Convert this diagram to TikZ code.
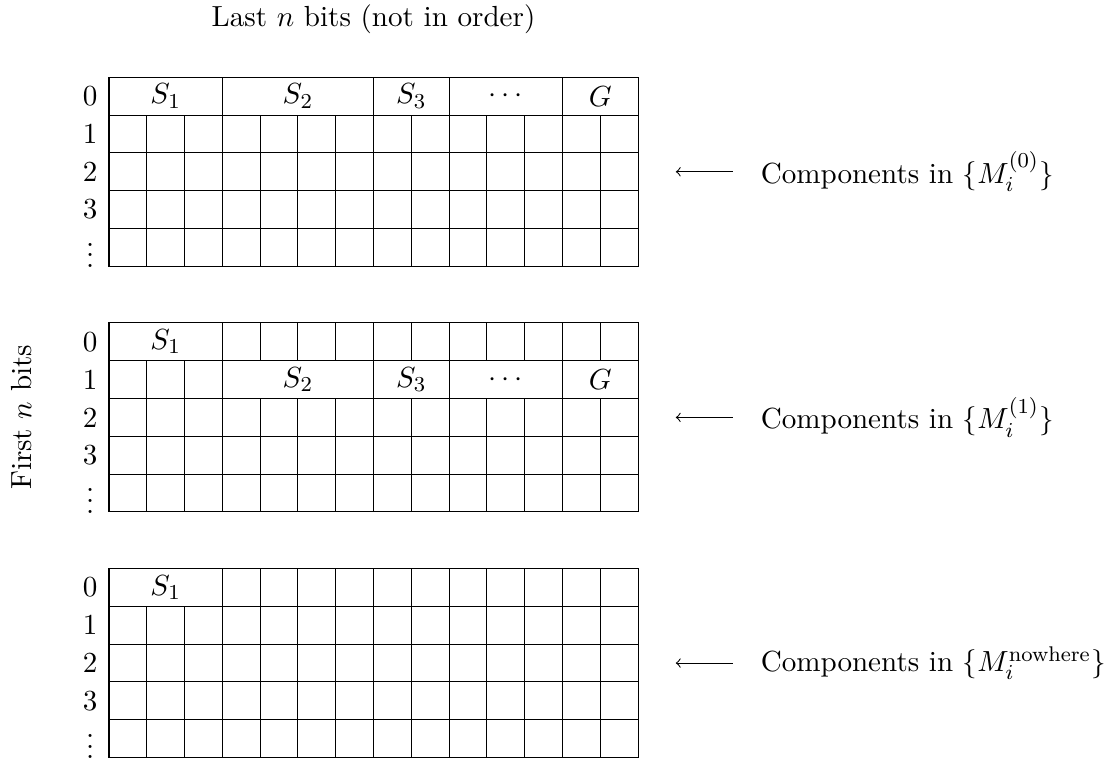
\documentclass[tikz,border=0pt]{standalone}
\begin{document}
\begin{tikzpicture}[x=0.5cm,y=0.5cm,font=\fontsize{10.95}{13.6}\selectfont,
  gridline/.style={draw=black,line width=0.4pt},
  rowlab/.style={anchor=center},
  celllab/.style={anchor=center},
  comptext/.style={anchor=west}]
\useasboundingbox (-2.884,2.046) rectangle (26.49,-18.09);
% title and side label
\node (title) at (7,1.55) {Last $n$ bits (not in order)};
\node[rotate=90] (side) at (-2.315,-9) {First $n$ bits};
% ---------------- block 1 ----------------
\begin{scope}[shift={(0,0)}]
  \draw[gridline] (0,0) rectangle (14,-5);
  \foreach \y in {1,...,4} \draw[gridline] (0,-\y) -- (14,-\y);
  \foreach \x in {3,7,9,12} \draw[gridline] (\x,0) -- (\x,-1);
  \foreach \x in {1,...,13} \draw[gridline] (\x,-1) -- (\x,-5);
  \node[celllab] (b1s1) at (1.5,-0.5) {$S_1$};
  \node[celllab] (b1s2) at (5,-0.5) {$S_2$};
  \node[celllab] (b1s3) at (8,-0.5) {$S_3$};
  \node[celllab] (b1d) at (10.5,-0.5) {$\cdots$};
  \node[celllab] (b1g) at (13,-0.5) {$G$};
  \node[rowlab] (b1r0) at (-0.5,-0.5) {0};
  \node[rowlab] (b1r1) at (-0.5,-1.5) {1};
  \node[rowlab] (b1r2) at (-0.5,-2.5) {2};
  \node[rowlab] (b1r3) at (-0.5,-3.5) {3};
  \node[rowlab] (b1r4) at (-0.5,-4.5) {$\vdots$};
  \coordinate (b1as) at (15,-2.5);
  \coordinate (b1ae) at (16.5,-2.5);
  \draw[<-] (b1as) -- (b1ae);
  \node[comptext] (b1c) at (17,-2.5) {Components in $\{M_i^{(0)}\}$};
\end{scope}
% ---------------- block 2 ----------------
\begin{scope}[shift={(0,-6.5)}]
  \draw[gridline] (0,0) rectangle (14,-5);
  \foreach \y in {1,...,4} \draw[gridline] (0,-\y) -- (14,-\y);
  \foreach \x in {3,...,13} \draw[gridline] (\x,0) -- (\x,-1);
  \foreach \x in {1,2,3,7,9,12} \draw[gridline] (\x,-1) -- (\x,-2);
  \foreach \x in {1,...,13} \draw[gridline] (\x,-2) -- (\x,-5);
  \node[celllab] (b2s1) at (1.5,-0.5) {$S_1$};
  \node[celllab] (b2s2) at (5,-1.5) {$S_2$};
  \node[celllab] (b2s3) at (8,-1.5) {$S_3$};
  \node[celllab] (b2d) at (10.5,-1.5) {$\cdots$};
  \node[celllab] (b2g) at (13,-1.5) {$G$};
  \node[rowlab] (b2r0) at (-0.5,-0.5) {0};
  \node[rowlab] (b2r1) at (-0.5,-1.5) {1};
  \node[rowlab] (b2r2) at (-0.5,-2.5) {2};
  \node[rowlab] (b2r3) at (-0.5,-3.5) {3};
  \node[rowlab] (b2r4) at (-0.5,-4.5) {$\vdots$};
  \coordinate (b2as) at (15,-2.5);
  \coordinate (b2ae) at (16.5,-2.5);
  \draw[<-] (b2as) -- (b2ae);
  \node[comptext] (b2c) at (17,-2.5) {Components in $\{M_i^{(1)}\}$};
\end{scope}
% ---------------- block 3 ----------------
\begin{scope}[shift={(0,-13)}]
  \draw[gridline] (0,0) rectangle (14,-5);
  \foreach \y in {1,...,4} \draw[gridline] (0,-\y) -- (14,-\y);
  \foreach \x in {3,...,13} \draw[gridline] (\x,0) -- (\x,-1);
  \foreach \x in {1,...,13} \draw[gridline] (\x,-1) -- (\x,-5);
  \node[celllab] (b3s1) at (1.5,-0.5) {$S_1$};
  \node[rowlab] (b3r0) at (-0.5,-0.5) {0};
  \node[rowlab] (b3r1) at (-0.5,-1.5) {1};
  \node[rowlab] (b3r2) at (-0.5,-2.5) {2};
  \node[rowlab] (b3r3) at (-0.5,-3.5) {3};
  \node[rowlab] (b3r4) at (-0.5,-4.5) {$\vdots$};
  \coordinate (b3as) at (15,-2.5);
  \coordinate (b3ae) at (16.5,-2.5);
  \draw[<-] (b3as) -- (b3ae);
  \node[comptext] (b3c) at (17,-2.5) {Components in $\{M_i^{\mathrm{nowhere}}\}$};
\end{scope}
\end{tikzpicture}
\end{document}
